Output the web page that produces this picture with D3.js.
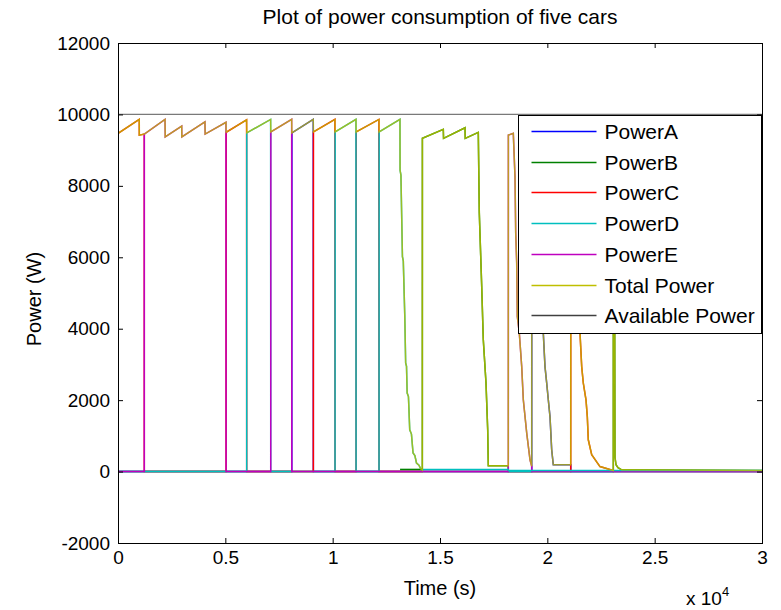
<!DOCTYPE html>
<html>
<head>
<meta charset="utf-8">
<script src="https://cdn.jsdelivr.net/npm/d3@7"></script>
<style>
  body { margin: 0; background: #fff; }
  svg text { font-family: "Liberation Sans", Arial, Helvetica, sans-serif; fill: #000; }
</style>
</head>
<body>
<svg id="chart" width="781" height="610"></svg>
<script>
// axis ticks
const xTicks = [0, 5000, 10000, 15000, 20000, 25000, 30000];
const xTickLabels = ["0", "0.5", "1", "1.5", "2", "2.5", "3"];
const yTicks = [-2000, 0, 2000, 4000, 6000, 8000, 10000, 12000];

const seriesNames = ["PowerA", "PowerB", "PowerC", "PowerD", "PowerE", "Total Power", "Available Power"];

// total power [time s, power W]
const totalPower = [
  [0, 0], [5, 9470], [990, 9860], [992, 9420], [1225, 9450],
  [2190, 9860], [2200, 9373], [2967, 9673], [2975, 9373],
  [4050, 9790], [4060, 9450], [5030, 9780], [5040, 9500],
  [5990, 9850], [6000, 9485], [7110, 9860], [7120, 9510],
  [8090, 9860], [8100, 9485], [9095, 9860], [9105, 9510],
  [10105, 9860], [10115, 9510], [11085, 9860], [11095, 9510],
  [12155, 9860], [12165, 9510], [13135, 9860],
  [13140, 8440], [13180, 8300], [13250, 6020], [13290, 5900], [13360, 4340],
  [13400, 3040], [13440, 2950], [13470, 2200], [13530, 2100], [13590, 1170],
  [13670, 1050], [13745, 520], [13830, 450], [13905, 240], [14020, 180],
  [14100, 80], [14176, 40],
  [14180, 9330], [15154, 9580], [15165, 9330], [16165, 9626], [16175, 9330],
  [16784, 9497], [16831, 7240], [16943, 5180], [17017, 3690], [17143, 2480],
  [17222, 1170], [17250, 160], [18180, 160],
  [18185, 9420], [18415, 9470], [18494, 8250], [18527, 6680], [18573, 5840],
  [18601, 4340], [18694, 3880], [18806, 2940], [18881, 2010], [19039, 1080],
  [19193, 330], [19272, 150],
  [19275, 9400], [19798, 9550], [19812, 3880], [19891, 2940], [19970, 2480],
  [20045, 2010], [20124, 1540], [20203, 610], [20278, 190], [21089, 190],
  [21092, 9400], [21429, 9600], [21522, 3880], [21601, 2940], [21675, 2480],
  [21801, 2010], [21862, 1540], [21908, 890], [22066, 470], [22453, 140],
  [23073, 30],
  [23076, 9400], [23120, 9450], [23152, 400], [23199, 190], [23292, 110],
  [23464, 50], [30000, 30]
];
const availablePower = [[0, 10000], [30000, 10000]];

// time slots [start, end] in which each car takes the power
const slotsA = [[8095, 9100], [19273, 21090]];
const slotsB = [[14178, 18183], [23074, 30000]];
const slotsC = [[0, 1225], [5035, 5995], [9100, 10110], [11090, 12160], [21090, 23074]];
const slotsD = [[5995, 7115], [10110, 11090], [12160, 14178]];
const slotsE = [[1225, 5035], [7115, 8095], [18183, 19273]];

// small leftover power near zero
const residB = [[13140, 60], [14176, 60]];
const residD = [[14180, 60], [18180, 60], [18185, 30], [30000, 30]];

const colors = ["#0000ff", "#008000", "#ff0000", "#00bfbf", "#bf00bf", "#bfbf00", "#404040"];

const svg = d3.select("#chart");
const margin = { left: 118, right: 762, top: 43, bottom: 543 };

const x = d3.scaleLinear().domain([0, 30000]).range([margin.left, margin.right]);
const y = d3.scaleLinear().domain([-2000, 12000]).range([margin.bottom, margin.top]);

svg.append("defs").append("clipPath").attr("id", "clip")
  .append("rect")
  .attr("x", margin.left).attr("y", margin.top)
  .attr("width", margin.right - margin.left).attr("height", margin.bottom - margin.top);

// build a car's series: zero outside its slots, follows the total inside
function carPoints(slots) {
  const pts = [[0, 0]];
  slots.forEach(([s, e]) => {
    pts.push([s, 0]);
    totalPower.filter(d => d[0] >= s && d[0] <= e).forEach(d => pts.push(d));
    pts.push([e, 0]);
  });
  pts.push([30000, 0]);
  return pts;
}

const line = d3.line().x(d => x(d[0])).y(d => y(d[1]));

const plot = svg.append("g").attr("clip-path", "url(#clip)");

const cars = [slotsA, slotsB, slotsC, slotsD, slotsE].map(carPoints);

cars.forEach((pts, i) => {
  plot.append("path")
    .datum(pts)
    .attr("d", line)
    .attr("fill", "none")
    .attr("stroke", colors[i])
    .attr("stroke-width", 1.5);
});

plot.append("path").datum(residB).attr("d", line)
  .attr("fill", "none").attr("stroke", colors[1]).attr("stroke-width", 1.5);
plot.append("path").datum(residD).attr("d", line)
  .attr("fill", "none").attr("stroke", colors[3]).attr("stroke-width", 1.5);

// total drawn over the cars, slightly see-through so the car colours tint it
plot.append("path")
  .datum(totalPower)
  .attr("d", line)
  .attr("fill", "none")
  .attr("stroke", colors[5])
  .attr("stroke-width", 1.5)
  .attr("stroke-opacity", 0.8);

plot.append("path")
  .datum(availablePower)
  .attr("d", line)
  .attr("fill", "none")
  .attr("stroke", colors[6])
  .attr("stroke-width", 1.2)
  .attr("stroke-opacity", 0.7);

// axes, ticks pointing inward
const fmtX = (d, i) => xTickLabels[i];

svg.append("g")
  .attr("transform", `translate(0,${margin.bottom})`)
  .call(d3.axisBottom(x).tickValues(xTicks).tickFormat(fmtX).tickSizeInner(-5).tickSizeOuter(0).tickPadding(8))
  .call(g => g.select(".domain").remove());

svg.append("g")
  .attr("transform", `translate(0,${margin.top})`)
  .call(d3.axisTop(x).tickValues(xTicks).tickFormat("").tickSizeInner(-5).tickSizeOuter(0))
  .call(g => g.select(".domain").remove());

svg.append("g")
  .attr("transform", `translate(${margin.left},0)`)
  .call(d3.axisLeft(y).tickValues(yTicks).tickFormat(d => String(d)).tickSizeInner(-5).tickSizeOuter(0).tickPadding(8))
  .call(g => g.select(".domain").remove());

svg.append("g")
  .attr("transform", `translate(${margin.right},0)`)
  .call(d3.axisRight(y).tickValues(yTicks).tickFormat("").tickSizeInner(-5).tickSizeOuter(0))
  .call(g => g.select(".domain").remove());

svg.selectAll(".tick line").attr("stroke", "#000");
svg.selectAll(".tick text").style("font-size", "19px").attr("fill", "#000");

svg.append("rect")
  .attr("x", margin.left + 0.5).attr("y", margin.top + 0.5)
  .attr("width", margin.right - margin.left).attr("height", margin.bottom - margin.top)
  .attr("fill", "none").attr("stroke", "#000").attr("stroke-width", 1);

// titles
svg.append("text")
  .attr("x", 440).attr("y", 24)
  .attr("text-anchor", "middle")
  .style("font-size", "21px")
  .text("Plot of power consumption of five cars");

svg.append("text")
  .attr("x", 440).attr("y", 595)
  .attr("text-anchor", "middle")
  .style("font-size", "20px")
  .text("Time (s)");

svg.append("text")
  .attr("transform", "translate(41,299) rotate(-90)")
  .attr("text-anchor", "middle")
  .style("font-size", "20px")
  .text("Power (W)");

const expo = svg.append("text")
  .attr("x", 686).attr("y", 605)
  .style("font-size", "19px");
expo.append("tspan").text("x 10");
expo.append("tspan").attr("dy", -9).style("font-size", "13px").text("4");

// legend
const legend = svg.append("g").attr("transform", "translate(518.5,115.5)");
legend.append("rect")
  .attr("width", 243).attr("height", 218)
  .attr("fill", "#fff").attr("stroke", "#000").attr("stroke-width", 1);

const entry = legend.selectAll("g.entry")
  .data(seriesNames)
  .enter()
  .append("g")
  .attr("class", "entry")
  .attr("transform", (d, i) => `translate(0,${Math.round(16 + i * 30.7)})`);

entry.append("line")
  .attr("x1", 13).attr("x2", 78)
  .attr("stroke", (d, i) => colors[i])
  .attr("stroke-width", 1.6);

entry.append("text")
  .attr("x", 86).attr("dy", "0.35em")
  .style("font-size", "21px")
  .text(d => d);
</script>
</body>
</html>
